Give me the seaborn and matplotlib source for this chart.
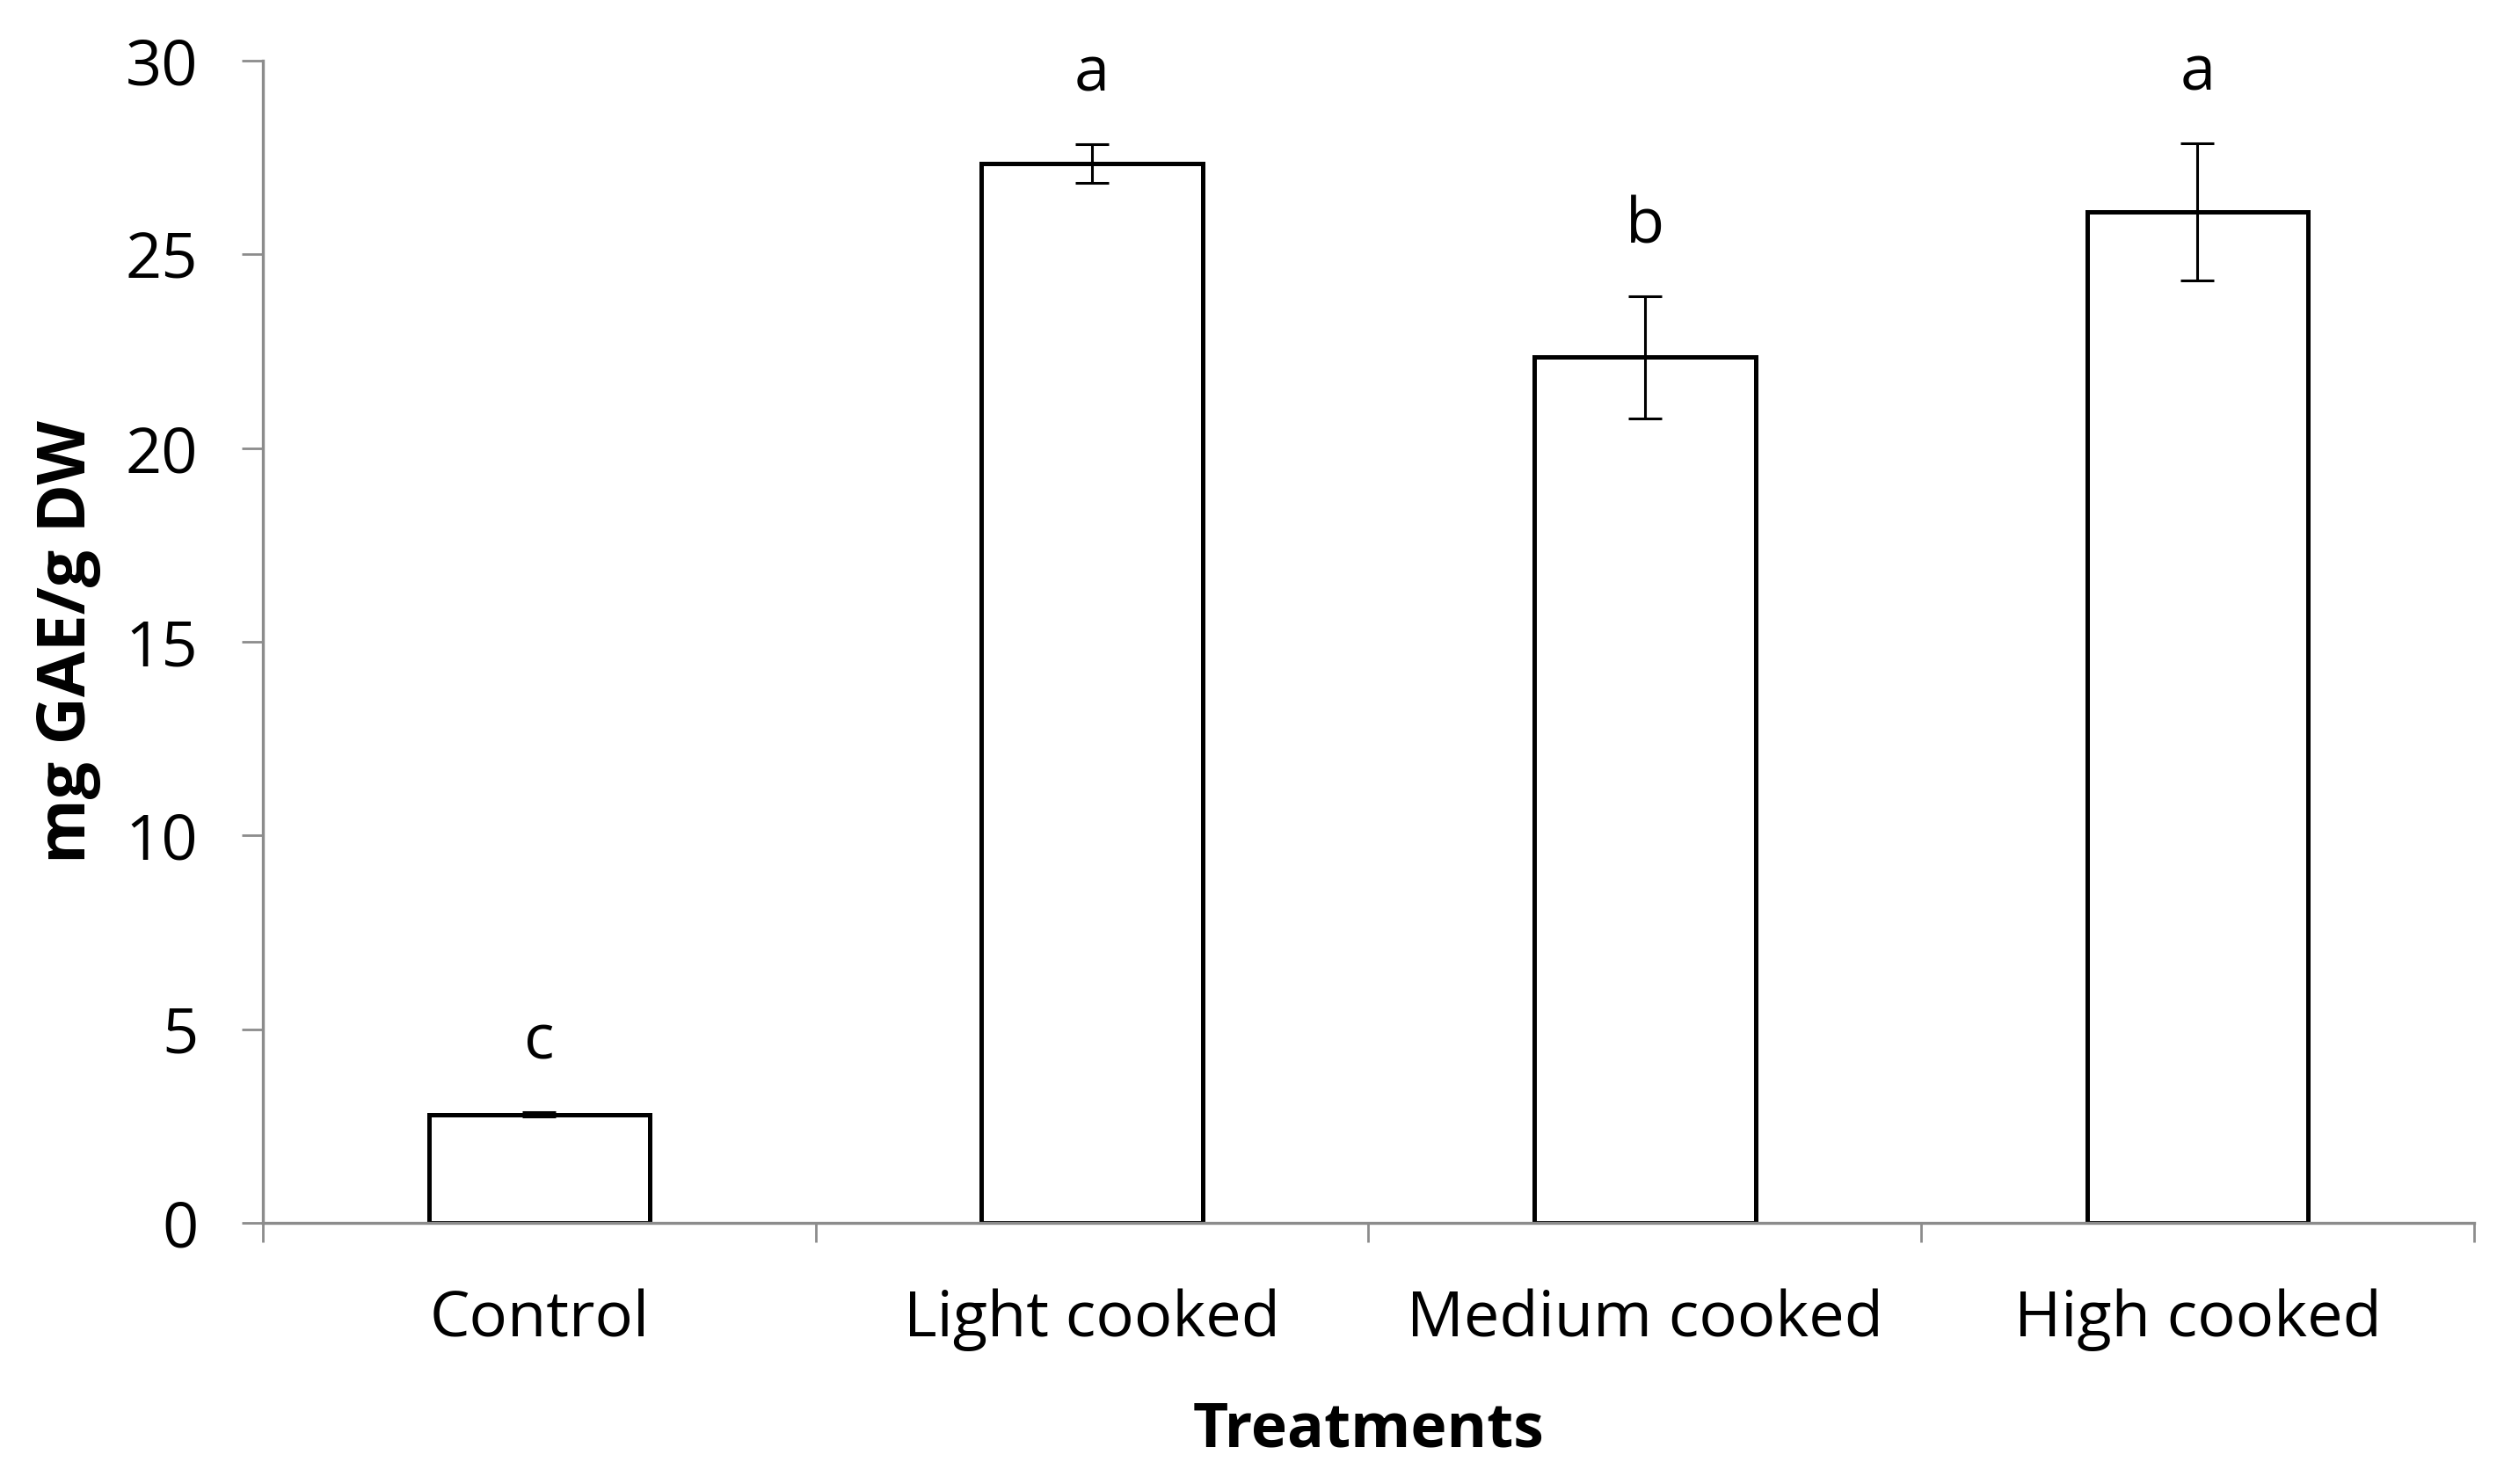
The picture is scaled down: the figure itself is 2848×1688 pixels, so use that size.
import numpy as np
import pandas as pd
import matplotlib
matplotlib.use("Agg")
import matplotlib.pyplot as plt
import seaborn as sns

# values
treatments = ["Control", "Light cooked", "Medium cooked", "High cooked"]
means = [2.80, 27.35, 22.35, 26.10]
errors = [0.05, 0.50, 1.58, 1.78]
letters = ["c", "a", "b", "a"]

df = pd.DataFrame({"treatment": treatments, "value": means})

sns.set_style("white")
plt.rcParams["font.family"] = ["Open Sans", "DejaVu Sans"]
plt.rcParams["text.color"] = "black"
plt.rcParams["axes.labelcolor"] = "black"

fig = plt.figure(figsize=(14.24, 8.44), dpi=200)
ax = fig.add_axes([0.105, 0.176, 0.883, 0.783])

sns.barplot(data=df, x="treatment", y="value", order=treatments, errorbar=None,
            width=0.4, color="white", edgecolor="black", linewidth=1.8, ax=ax)

xpos = np.arange(len(treatments))
ax.errorbar(xpos, means, yerr=errors, fmt="none", ecolor="black",
            elinewidth=1.1, capsize=6.7, capthick=1.1, zorder=3)

# significance letters above error bars
for x, m, e, lab in zip(xpos, means, errors, letters):
    ax.text(x, m + e + 1.8, lab, ha="center", va="center", fontsize=26)

gray = "#8c8c8c"
ax.set_ylim(0, 30)
ax.set_xlim(-0.5, 3.5)
ax.set_yticks(range(0, 31, 5))
ax.tick_params(axis="y", direction="out", length=8.5, width=1, color=gray,
               labelsize=26, pad=18, left=True, labelcolor="black")
ax.set_xticks(xpos)
ax.set_xticklabels(treatments)
ax.tick_params(axis="x", length=0, labelsize=26, pad=27, labelcolor="black")
# Excel-style tick marks between categories
ax.set_xticks(np.arange(-0.5, 3.6, 1.0), minor=True)
ax.tick_params(axis="x", which="minor", direction="out", length=8, width=1,
               color=gray, bottom=True)

for side in ["top", "right"]:
    ax.spines[side].set_visible(False)
for side in ["left", "bottom"]:
    ax.spines[side].set_color(gray)
    ax.spines[side].set_linewidth(1.2)

ax.set_xlabel("Treatments", fontsize=25, fontweight="bold", labelpad=20,
              color="black")
ax.set_ylabel("mg GAE/g DW", fontsize=27, fontweight="bold", labelpad=10,
              color="black")

fig.savefig("out.png", dpi=200)
